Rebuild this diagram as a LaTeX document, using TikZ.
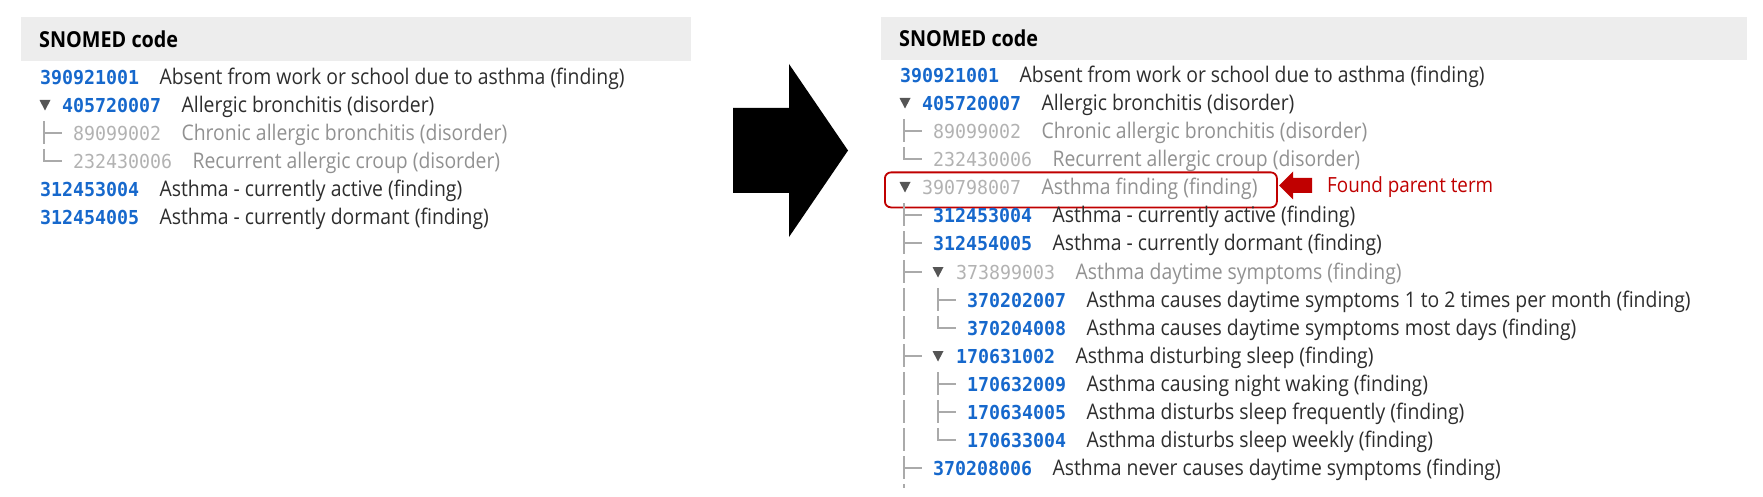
\documentclass[tikz,border=0pt]{standalone}
\usepackage{fontspec}
\setmainfont[FakeStretch=0.9]{Open Sans}
\newfontfamily\codefont[FakeStretch=0.95]{DejaVu Sans Mono}
\definecolor{codeblue}{RGB}{22,104,204}
\definecolor{codegray}{RGB}{178,178,178}
\definecolor{txtdark}{RGB}{45,45,45}
\definecolor{txtgray}{RGB}{145,145,145}
\definecolor{hdrgray}{RGB}{237,237,237}
\definecolor{treegray}{RGB}{170,170,170}
\definecolor{trigray}{RGB}{85,85,85}
\definecolor{darkred}{RGB}{192,0,0}
\newlength\calw
% row entry: name, x of code, row y, code style, code, text style, text
\newcommand\sentry[7]{%
  \node[#4] (#1c) at (#2,#3+7.2) {#5};
  \node[#6] (#1t) at ([xshift=20pt]#1c.base east) {#7};}
\newcommand\ttee[2]{\draw[treeline] (#1,#2-12) -- (#1,#2+11) (#1,#2) -- (#1+18,#2);}
\newcommand\tcorner[2]{\draw[treeline] (#1,#2-12) -- (#1,#2) -- (#1+18,#2);}
\newcommand\tbar[2]{\draw[treeline] (#1,#2-12) -- (#1,#2+11);}
\newcommand\downtri[2]{\fill[trigray] (#1-5.5,#2-5) -- (#1+5.5,#2-5) -- (#1,#2+5.5) -- cycle;}
\begin{document}
\settowidth\calw{\fontsize{10pt}{12pt}\selectfont Absent from work or school due to asthma (finding)}%
\pgfmathsetmacro\txtsz{10*465/\calw}%
\settowidth\calw{\codefont\bfseries\fontsize{10pt}{12pt}\selectfont 000000000}%
\pgfmathsetmacro\codesz{10*99/\calw}%
\settowidth\calw{\bfseries\fontsize{10pt}{12pt}\selectfont SNOMED code}%
\pgfmathsetmacro\hdrsz{10*139/\calw}%
\settowidth\calw{\fontsize{10pt}{12pt}\selectfont Found parent term}%
\pgfmathsetmacro\fndsz{10*166/\calw}%
\begin{tikzpicture}[x=1pt,y=-1pt,
  codeb/.style={font=\codefont\bfseries\fontsize{\codesz}{\codesz}\selectfont, text=codeblue, inner sep=0pt, anchor=base west},
  codeg/.style={font=\codefont\fontsize{\codesz}{\codesz}\selectfont, text=codegray, inner sep=0pt, anchor=base west},
  txtd/.style={font=\fontsize{\txtsz}{\txtsz}\selectfont, text=txtdark, inner sep=0pt, anchor=base west},
  txtg/.style={txtd, text=txtgray},
  hdr/.style={fill=hdrgray, draw=none, inner sep=0pt, anchor=north west},
  hdrtxt/.style={font=\bfseries\fontsize{\hdrsz}{\hdrsz}\selectfont, text=black, inner sep=0pt, anchor=base west},
  treeline/.style={draw=treegray, line width=1.4pt},
  redbox/.style={draw=darkred, line width=1.8pt, rounded corners=6pt, inner sep=0pt, anchor=north west},
]
\useasboundingbox (0,0) rectangle (1763,497);
% ---------------- left panel ----------------
\node[hdr, minimum width=670pt, minimum height=44pt] (lhdr) at (21,17) {};
\node[hdrtxt] (lhdrt) at (39,48) {SNOMED code};
\sentry{l1}{40}{77}{codeb}{390921001}{txtd}{Absent from work or school due to asthma (finding)}
\downtri{45}{105}
\sentry{l2}{62}{105}{codeb}{405720007}{txtd}{Allergic bronchitis (disorder)}
\ttee{44}{133}
\sentry{l3}{73}{133}{codeg}{89099002}{txtg}{Chronic allergic bronchitis (disorder)}
\tcorner{44}{161}
\sentry{l4}{73}{161}{codeg}{232430006}{txtg}{Recurrent allergic croup (disorder)}
\sentry{l5}{40}{189}{codeb}{312453004}{txtd}{Asthma - currently active (finding)}
\sentry{l6}{40}{217}{codeb}{312454005}{txtd}{Asthma - currently dormant (finding)}
% ---------------- big arrow ----------------
\fill[black] (733,108) -- (789,108) -- (789,64) -- (848,150.5) -- (789,237) -- (789,193) -- (733,193) -- cycle;
% ---------------- right panel ----------------
\node[hdr, minimum width=866pt, minimum height=43pt] (rhdr) at (881,17) {};
\node[hdrtxt] (rhdrt) at (899,47) {SNOMED code};
\sentry{r1}{900}{75}{codeb}{390921001}{txtd}{Absent from work or school due to asthma (finding)}
\downtri{905}{103}
\sentry{r2}{922}{103}{codeb}{405720007}{txtd}{Allergic bronchitis (disorder)}
\ttee{904}{131}
\sentry{r3}{933}{131}{codeg}{89099002}{txtg}{Chronic allergic bronchitis (disorder)}
\tcorner{904}{159}
\sentry{r4}{933}{159}{codeg}{232430006}{txtg}{Recurrent allergic croup (disorder)}
\node[redbox, minimum width=392pt, minimum height=35pt] (box) at (884,171.5) {};
\downtri{905}{187}
\sentry{r5}{922}{187}{codeg}{390798007}{txtg}{Asthma finding (finding)}
\ttee{904}{215}
\sentry{r6}{933}{215}{codeb}{312453004}{txtd}{Asthma - currently active (finding)}
\ttee{904}{243}
\sentry{r7}{933}{243}{codeb}{312454005}{txtd}{Asthma - currently dormant (finding)}
\ttee{904}{272}
\downtri{938}{272}
\sentry{r8}{956}{272}{codeg}{373899003}{txtg}{Asthma daytime symptoms (finding)}
\tbar{904}{300}
\ttee{938}{300}
\sentry{r9}{967}{300}{codeb}{370202007}{txtd}{Asthma causes daytime symptoms 1 to 2 times per month (finding)}
\tbar{904}{328}
\tcorner{938}{328}
\sentry{r10}{967}{328}{codeb}{370204008}{txtd}{Asthma causes daytime symptoms most days (finding)}
\ttee{904}{356}
\downtri{938}{356}
\sentry{r11}{956}{356}{codeb}{170631002}{txtd}{Asthma disturbing sleep (finding)}
\tbar{904}{384}
\ttee{938}{384}
\sentry{r12}{967}{384}{codeb}{170632009}{txtd}{Asthma causing night waking (finding)}
\tbar{904}{412}
\ttee{938}{412}
\sentry{r13}{967}{412}{codeb}{170634005}{txtd}{Asthma disturbs sleep frequently (finding)}
\tbar{904}{440}
\tcorner{938}{440}
\sentry{r14}{967}{440}{codeb}{170633004}{txtd}{Asthma disturbs sleep weekly (finding)}
\ttee{904}{468}
\sentry{r15}{933}{468}{codeb}{370208006}{txtd}{Asthma never causes daytime symptoms (finding)}
\draw[treeline] (904,484) -- (904,488);
% ---------------- red pointer ----------------
\fill[darkred] (1279,185.5) -- (1293,171.5) -- (1293,178) -- (1312,178) -- (1312,193) -- (1293,193) -- (1293,199.5) -- cycle;
\node[font=\fontsize{\fndsz}{\fndsz}\selectfont, text=darkred, inner sep=0pt, anchor=base west] (found) at (1327,192.5) {Found parent term};
\end{tikzpicture}
\end{document}
